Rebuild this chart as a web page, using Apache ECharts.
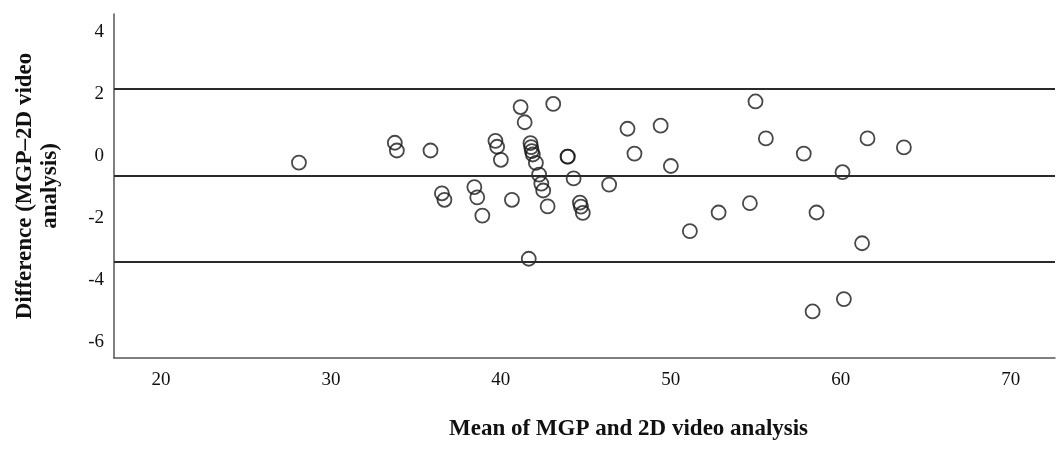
<!DOCTYPE html>
<html>
<head>
<meta charset="utf-8">
<script src="https://cdn.jsdelivr.net/npm/echarts@6/dist/echarts.min.js"></script>
<style>
html,body{margin:0;padding:0;background:#fff;}
#chart{width:1059px;height:460px;}
</style>
</head>
<body>
<div id="chart"></div>
<script>
// Bland-Altman data: mean (x) and difference (y)
var meanValues = [28.12, 33.76, 33.88, 35.86, 36.53, 36.68, 38.44, 38.61, 38.91, 39.68,
  39.78, 40.00, 40.65, 41.16, 41.40, 41.74, 41.78, 41.82, 41.88, 42.06,
  42.25, 42.38, 42.49, 42.75, 41.64, 43.08, 43.92, 43.94, 44.28, 44.65,
  44.71, 44.82, 46.37, 47.45, 47.86, 49.40, 50.00, 51.12, 52.81, 54.65,
  54.98, 55.59, 57.82, 58.34, 58.57, 60.10, 60.18, 61.25, 61.57, 63.71];
var diffValues = [-0.22, 0.42, 0.17, 0.17, -1.21, -1.42, -1.01, -1.34, -1.93, 0.48,
  0.29, -0.13, -1.42, 1.57, 1.08, 0.41, 0.28, 0.15, 0.04, -0.23,
  -0.61, -0.90, -1.12, -1.63, -3.32, 1.67, -0.03, -0.03, -0.73, -1.51,
  -1.64, -1.84, -0.93, 0.87, 0.07, 0.97, -0.33, -2.43, -1.83, -1.53,
  1.75, 0.56, 0.07, -5.02, -1.83, -0.53, -4.62, -2.82, 0.56, 0.27];
var refLines = [2.15, -0.63, -3.41]; // upper LoA, mean difference, lower LoA
var xTickLabels = [20, 30, 40, 50, 60, 70];
var yTickLabels = [-6, -4, -2, 0, 2, 4];
var xTitle = 'Mean of MGP and 2D video analysis';
var yTitle = 'Difference (MGP\u20132D video\nanalysis)';

var points = meanValues.map(function (x, i) { return [x, diffValues[i]]; });

var chart = echarts.init(document.getElementById('chart'), null, {renderer: 'canvas'});
var serif = '"Liberation Serif", "DejaVu Serif", serif';
chart.setOption({
  animation: false,
  backgroundColor: '#ffffff',
  grid: {left: 114, right: 4, top: 14, bottom: 102, containLabel: false},
  xAxis: {
    type: 'value', min: 17.24, max: 72.6,
    splitLine: {show: false},
    axisLine: {show: true, onZero: false, lineStyle: {color: '#555', width: 1.5}},
    axisTick: {show: false},
    axisLabel: {customValues: xTickLabels, color: '#111', fontFamily: serif, fontSize: 19, margin: 13}
  },
  yAxis: {
    type: 'value', min: -6.52, max: 4.57,
    splitLine: {show: false},
    axisLine: {show: true, onZero: false, lineStyle: {color: '#555', width: 1.5}},
    axisTick: {show: false},
    axisLabel: {customValues: yTickLabels, color: '#111', fontFamily: serif, fontSize: 19, margin: 10},
    name: yTitle, nameLocation: 'middle', nameRotate: 90, nameGap: 51,
    nameTextStyle: {color: '#111', fontFamily: serif, fontSize: 23, fontWeight: 'bold', lineHeight: 25}
  },
  graphic: [{
    type: 'text', left: 628 - 179, top: 418,
    style: {text: xTitle, fill: '#111', font: 'bold 23px "Liberation Serif", serif'}
  }],
  series: [{
    type: 'scatter',
    data: points,
    symbol: 'circle',
    symbolSize: 14,
    itemStyle: {color: 'rgba(255,255,255,0)', borderColor: '#1a1a1a', borderWidth: 1.8},
    emphasis: {disabled: true},
    markLine: {
      silent: true,
      symbol: ['none', 'none'],
      label: {show: false},
      lineStyle: {type: 'solid', color: '#2a2a2a', width: 2},
      data: refLines.map(function (v) { return {yAxis: v}; })
    }
  }]
});
</script>
</body>
</html>
